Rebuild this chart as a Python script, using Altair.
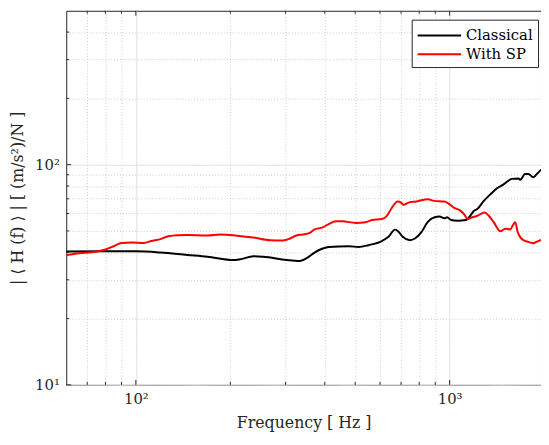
import altair as alt
import pandas as pd

# ---- data ----
freq_classical = [60, 80, 100, 120, 146, 169, 205, 215, 237, 255, 302, 332, 349, 370,
                  394, 412, 477, 513, 551, 608, 637, 670, 685, 710, 747, 775, 813, 851,
                  896, 928, 962, 982, 1010, 1060, 1126, 1153, 1196, 1225, 1285, 1350,
                  1416, 1486, 1578, 1657, 1677, 1740, 1782, 1847, 1890, 1955]
mag_classical = [40.3, 40.4, 40.4, 39.9, 38.9, 38.2, 36.9, 37.2, 38.4, 38.2, 36.9, 36.5, 37.5, 39.8,
                 41.6, 42.3, 42.6, 42.3, 43.1, 45.0, 46.9, 50.7, 49.9, 46.9, 45.4, 46.2, 49.4, 54.8,
                 57.7, 58.1, 57.1, 57.7, 56.1, 55.7, 56.1, 57.7, 61.8, 62.9, 68.5, 73.4,
                 78.1, 81.4, 86.2, 86.6, 85.3, 90.8, 90.8, 87.7, 90.2, 95.0]

freq_sp = [60, 66, 74.5, 80, 85, 90, 97, 106, 112, 119, 127, 136, 146, 169, 186, 210, 237,
           268, 295, 310, 325, 341, 358, 370, 394, 413, 434, 456, 502, 539, 566, 608, 631,
           654, 683, 700, 712, 747, 784, 813, 853, 891, 962, 998, 1035, 1073, 1113, 1139,
           1181, 1225, 1292, 1333, 1382, 1451, 1504, 1560, 1590, 1618, 1648, 1717, 1782,
           1847, 1890, 1955]
mag_sp = [38.9, 39.6, 40.2, 41.2, 42.6, 44.1, 44.3, 44.1, 45.0, 45.8, 47.3, 47.8, 47.9, 47.7, 48.2, 47.6, 46.7,
          45.4, 45.3, 46.2, 47.7, 48.2, 49.0, 50.7, 51.9, 53.9, 55.3, 55.3, 54.4, 54.8, 56.1, 56.7, 58.6,
          63.6, 68.0, 67.3, 65.7, 67.6, 68.0, 69.0, 69.7, 68.5, 68.0, 66.2, 63.6, 62.3, 59.5, 56.7,
          57.7, 58.6, 60.7, 58.6, 54.8, 49.8, 51.2, 50.8, 53.0, 54.8, 49.4, 45.4, 44.6,
          44.0, 44.6, 45.5]

series_names = ["Classical", "With SP"]
series_colors = ["black", "red"]

x_major = [100, 1000]
x_minor = [70, 80, 90, 200, 300, 400, 500, 600, 700, 800, 900]
y_major = [10, 100]
y_minor = [20, 30, 40, 50, 60, 70, 80, 90, 200, 300, 400]

x_domain = [60, 1955]
y_domain = [10, 500]

# ---- layout / style ----
W, H = 481, 379
FONT = "DejaVu Serif"
FRAME = "#262626"

df = pd.concat([
    pd.DataFrame({"freq": freq_classical, "mag": mag_classical, "series": series_names[0]}),
    pd.DataFrame({"freq": freq_sp, "mag": mag_sp, "series": series_names[1]}),
], ignore_index=True)

xscale = alt.Scale(type="log", domain=x_domain, nice=False)
yscale = alt.Scale(type="log", domain=y_domain, nice=False)

x_major_test = " || ".join(f"datum.value == {v}" for v in x_major)
y_major_test = " || ".join(f"datum.value == {v}" for v in y_major)

x_axis = alt.Axis(
    values=x_major + x_minor,
    labelExpr="datum.value == 100 ? '10²' : datum.value == 1000 ? '10³' : ''",
    title="Frequency [ Hz ]",
    ticks=False, domain=False, labelOverlap=False, labelFlush=False,
    labelPadding=7, titlePadding=8,
    gridColor={"condition": {"test": x_major_test, "value": "#dcdcdc"}, "value": "#cccccc"},
    gridDash={"condition": {"test": x_major_test, "value": [1, 0]}, "value": [1, 2]},
    gridWidth=1,
)
y_axis = alt.Axis(
    values=y_major + y_minor,
    labelExpr="datum.value == 10 ? '10¹' : datum.value == 100 ? '10²' : ''",
    title="| ⟨ H (f) ⟩ | [ (m/s²)/N ]",
    ticks=False, domain=False, labelOverlap=False, labelFlush=False,
    labelPadding=7, titlePadding=9,
    gridColor={"condition": {"test": y_major_test, "value": "#dcdcdc"}, "value": "#cccccc"},
    gridDash={"condition": {"test": y_major_test, "value": [1, 0]}, "value": [1, 2]},
    gridWidth=1,
)

lines = alt.Chart(df).mark_line(strokeWidth=2, interpolate="monotone").encode(
    x=alt.X("freq:Q", scale=xscale, axis=x_axis),
    y=alt.Y("mag:Q", scale=yscale, axis=y_axis),
    color=alt.Color(
        "series:N",
        scale=alt.Scale(domain=series_names, range=series_colors),
        legend=alt.Legend(
            title=None, orient="none", legendX=350, legendY=9,
            symbolType="M-1,0H3.4", symbolSize=400, symbolStrokeWidth=2,
            labelFont=FONT, labelFontSize=15, labelColor="black", labelOffset=28,
            fillColor="white", strokeColor=FRAME, padding=5, rowPadding=0,
        ),
    ),
    order=alt.Order("freq:Q"),
)


def xticks(vals, length, top):
    d = pd.DataFrame({"freq": vals})
    y0, y1 = (0, length) if top else (H, H - length)
    return alt.Chart(d).mark_rule(color=FRAME, strokeWidth=1).encode(
        x=alt.X("freq:Q", scale=xscale, axis=x_axis),
        y=alt.value(y0), y2=alt.value(y1),
    )


def yticks(vals, length):
    d = pd.DataFrame({"mag": vals})
    return alt.Chart(d).mark_rule(color=FRAME, strokeWidth=1).encode(
        y=alt.Y("mag:Q", scale=yscale, axis=y_axis),
        x=alt.value(0), x2=alt.value(length),
    )


chart = alt.layer(
    lines,
    xticks(x_major, 5, False), xticks(x_minor, 3, False),
    xticks(x_major, 5, True), xticks(x_minor, 3, True),
    yticks(y_major, 5), yticks(y_minor, 3),
).properties(
    width=W, height=H,
    background="white",
    autosize=alt.AutoSizeParams(type="none"),
    padding={"left": 59, "top": 0, "right": 0, "bottom": 50},
).configure_view(
    stroke=FRAME, strokeWidth=1,
).configure_axis(
    labelFont=FONT, labelFontSize=15, labelColor="#262626",
    titleFont=FONT, titleFontSize=16, titleColor="#262626", titleFontWeight="normal",
)

chart.save("out.html", embed_options={"renderer": "svg", "actions": False})
